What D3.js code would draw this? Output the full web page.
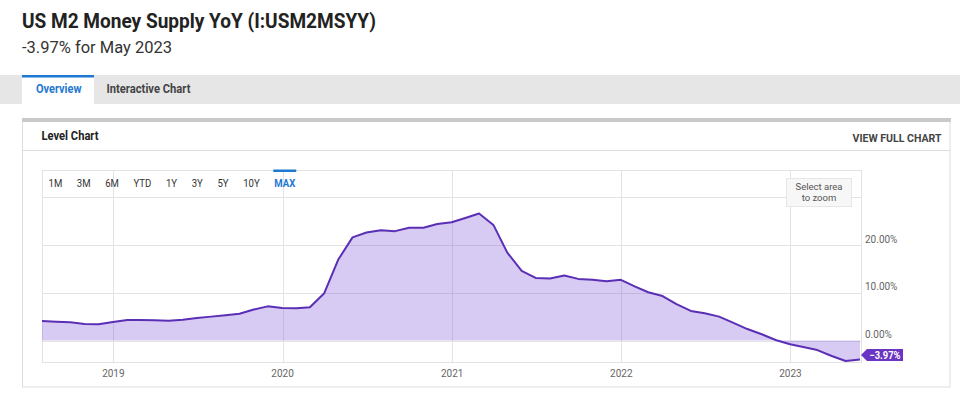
<!DOCTYPE html>
<html>
<head>
<meta charset="utf-8">
<script src="https://cdn.jsdelivr.net/npm/d3@7/dist/d3.min.js"></script>
<style>
  body { margin: 0; background: #fff; }
  svg { display: block; font-family: Roboto, "Noto Sans", sans-serif; }
</style>
</head>
<body>
<svg width="960" height="399"></svg>
<script>
// monthly readings, plotted at month end
var months = ["2018-07","2018-08","2018-09","2018-10","2018-11","2018-12",
  "2019-01","2019-02","2019-03","2019-04","2019-05","2019-06","2019-07","2019-08","2019-09","2019-10","2019-11","2019-12",
  "2020-01","2020-02","2020-03","2020-04","2020-05","2020-06","2020-07","2020-08","2020-09","2020-10","2020-11","2020-12",
  "2021-01","2021-02","2021-03","2021-04","2021-05","2021-06","2021-07","2021-08","2021-09","2021-10","2021-11","2021-12",
  "2022-01","2022-02","2022-03","2022-04","2022-05","2022-06","2022-07","2022-08","2022-09","2022-10","2022-11","2022-12",
  "2023-01","2023-02","2023-03","2023-04","2023-05"];
var values = [4.08, 3.95, 3.8, 3.45, 3.4, 3.87,
  4.3, 4.3, 4.25, 4.15, 4.35, 4.7, 5.0, 5.3, 5.6, 6.5, 7.15, 6.8,
  6.75, 6.95, 9.9, 16.9, 21.6, 22.6, 23.1, 22.9, 23.6, 23.6, 24.4, 24.75,
  25.7, 26.6, 24.2, 18.4, 14.6, 13.1, 13.0, 13.6, 12.9, 12.7, 12.4, 12.7,
  11.3, 10.1, 9.3, 7.6, 6.2, 5.7, 5.0, 3.7, 2.4, 1.3, 0.1, -0.8,
  -1.4, -2.0, -3.25, -4.3, -3.97];
var yearTicks = ["2019", "2020", "2021", "2022", "2023"];
var gridValues = [0, 10, 20, 30];
var labelValues = [0, 10, 20];
var ranges = ["1M", "3M", "6M", "YTD", "1Y", "3Y", "5Y", "10Y", "MAX"];
var tabs = ["Overview", "Interactive Chart"];

var svg = d3.select("svg");
var parseMonth = d3.timeParse("%Y-%m");
var data = months.map(function(m, i) {
  var d = parseMonth(m);
  return {date: d3.timeDay.offset(d3.timeMonth.offset(d, 1), -1), value: values[i]};
});

var plot = {left: 42, right: 861, top: 170, bottom: 362};

var x = d3.scaleTime()
    .domain([data[0].date, data[data.length - 1].date])
    .range([plot.left, plot.right - 1]);
var y = d3.scaleLinear()
    .domain([-4.5, 35.7])
    .range([plot.bottom, plot.top]);

// header
svg.append("text")
    .attr("x", 22).attr("y", 28)
    .attr("font-size", 20).attr("font-weight", 700).attr("fill", "#222")
    .attr("textLength", 354).attr("lengthAdjust", "spacingAndGlyphs")
    .text("US M2 Money Supply YoY (I:USM2MSYY)");
svg.append("text")
    .attr("x", 22).attr("y", 53)
    .attr("font-size", 16.5).attr("fill", "#333")
    .text("-3.97% for May " + months[months.length - 1].slice(0, 4));

// tabs
svg.append("rect").attr("x", 0).attr("y", 75).attr("width", 960).attr("height", 29).attr("fill", "#e6e6e6");
svg.append("rect").attr("x", 22).attr("y", 75).attr("width", 72).attr("height", 30).attr("fill", "#fff");
svg.append("rect").attr("x", 22).attr("y", 75).attr("width", 72).attr("height", 2.5).attr("fill", "#1f78d1");
svg.selectAll(".tab")
  .data(tabs)
  .enter().append("text")
    .attr("class", "tab")
    .attr("x", function(d, i) { return i == 0 ? 36 : 106.5; })
    .attr("y", 93)
    .attr("font-size", 12.5).attr("font-weight", 700)
    .attr("fill", function(d, i) { return i == 0 ? "#1f78d1" : "#444"; })
    .attr("textLength", function(d, i) { return i == 0 ? 45.5 : 84; })
    .attr("lengthAdjust", "spacingAndGlyphs")
    .text(function(d) { return d; });

// panel
svg.append("rect").attr("x", 22.5).attr("y", 118.5).attr("width", 927.5).attr("height", 268.5)
    .attr("fill", "#fff").attr("stroke", "#ddd");
svg.append("rect").attr("x", 22).attr("y", 118).attr("width", 929).attr("height", 4).attr("fill", "#c9c9c9");
svg.append("line").attr("x1", 23).attr("x2", 950).attr("y1", 150.5).attr("y2", 150.5).attr("stroke", "#ddd");
svg.append("text")
    .attr("x", 41.5).attr("y", 140)
    .attr("font-size", 12.5).attr("font-weight", 700).attr("fill", "#222")
    .attr("textLength", 57).attr("lengthAdjust", "spacingAndGlyphs")
    .text("Level Chart");
svg.append("text")
    .attr("x", 941.5).attr("y", 141.5).attr("text-anchor", "end")
    .attr("font-size", 11.5).attr("font-weight", 700).attr("fill", "#444")
    .attr("textLength", 89).attr("lengthAdjust", "spacingAndGlyphs")
    .text("VIEW FULL CHART");

// grid
var g = svg.append("g");
g.selectAll(".hgrid")
  .data(gridValues)
  .enter().append("line")
    .attr("class", "hgrid")
    .attr("x1", plot.left).attr("x2", plot.right)
    .attr("y1", function(d) { return Math.round(y(d)) + 0.5; })
    .attr("y2", function(d) { return Math.round(y(d)) + 0.5; })
    .attr("stroke", "#e3e3e3");
g.selectAll(".vgrid")
  .data(yearTicks)
  .enter().append("line")
    .attr("class", "vgrid")
    .attr("x1", function(d) { return Math.round(x(new Date(+d, 0, 1))) + 0.5; })
    .attr("x2", function(d) { return Math.round(x(new Date(+d, 0, 1))) + 0.5; })
    .attr("y1", plot.top).attr("y2", plot.bottom)
    .attr("stroke", "#e3e3e3");
g.append("rect")
    .attr("x", plot.left + 0.5).attr("y", plot.top + 0.5)
    .attr("width", plot.right - plot.left).attr("height", plot.bottom - plot.top)
    .attr("fill", "none").attr("stroke", "#e3e3e3");

// area + line
var area = d3.area()
    .x(function(d) { return x(d.date); })
    .y0(y(0))
    .y1(function(d) { return y(d.value); });
var line = d3.line()
    .x(function(d) { return x(d.date); })
    .y(function(d) { return y(d.value); });

g.append("path").datum(data).attr("d", area).attr("fill", "#7a4fd6").attr("fill-opacity", 0.3);
g.append("path").datum(data).attr("d", line)
    .attr("fill", "none").attr("stroke", "#5a2fb5").attr("stroke-width", 2)
    .attr("stroke-linejoin", "round");

// axes labels
g.selectAll(".ylab")
  .data(labelValues)
  .enter().append("text")
    .attr("class", "ylab")
    .attr("x", 865).attr("y", function(d) { return y(d) - 2.3; })
    .attr("font-size", 10).attr("fill", "#666")
    .text(function(d) { return d3.format(".2f")(d) + "%"; });
g.selectAll(".xlab")
  .data(yearTicks)
  .enter().append("text")
    .attr("class", "xlab")
    .attr("x", function(d) { return x(new Date(+d, 0, 1)); })
    .attr("y", 377)
    .attr("text-anchor", "middle")
    .attr("font-size", 10).attr("fill", "#666")
    .text(function(d) { return d; });

// range buttons (narrow face in the original, so squeeze glyphs a bit)
var bx = 48.5;
ranges.forEach(function(r) {
  var t = svg.append("text")
      .attr("x", bx).attr("y", 186.5)
      .attr("font-size", 11)
      .attr("font-weight", r == "MAX" ? 700 : 400)
      .attr("fill", r == "MAX" ? "#1f78d1" : "#333")
      .text(r);
  var w = t.node().getComputedTextLength() * 0.87;
  t.attr("textLength", w).attr("lengthAdjust", "spacingAndGlyphs");
  if (r == "MAX") {
    svg.append("rect").attr("x", bx - 1).attr("y", 169.5).attr("width", w + 2).attr("height", 2.5).attr("fill", "#1f78d1");
  }
  bx += w + 14.6;
});

// zoom hint
svg.append("rect").attr("x", 786.5).attr("y", 178.5).attr("width", 65).attr("height", 28)
    .attr("fill", "#f7f7f7").attr("stroke", "#e6e6e6");
svg.append("text").attr("x", 819).attr("y", 190).attr("text-anchor", "middle")
    .attr("font-size", 9.5).attr("fill", "#555").text("Select area");
svg.append("text").attr("x", 819).attr("y", 200.5).attr("text-anchor", "middle")
    .attr("font-size", 9.5).attr("fill", "#555").text("to zoom");

// last value badge
var last = data[data.length - 1];
var lx = x(last.date) + 1, ly = Math.min(y(last.value), plot.bottom - 7);
svg.append("path")
    .attr("d", "M" + lx + "," + ly + "l6,-6h36v12h-36z")
    .attr("fill", "#6a35c2");
svg.append("text")
    .attr("x", lx + 24).attr("y", ly + 3.8).attr("text-anchor", "middle")
    .attr("font-size", 10.5).attr("font-weight", 700).attr("fill", "#fff")
    .attr("textLength", 31).attr("lengthAdjust", "spacingAndGlyphs")
    .text(d3.format(".2f")(last.value) + "%");
</script>
</body>
</html>
